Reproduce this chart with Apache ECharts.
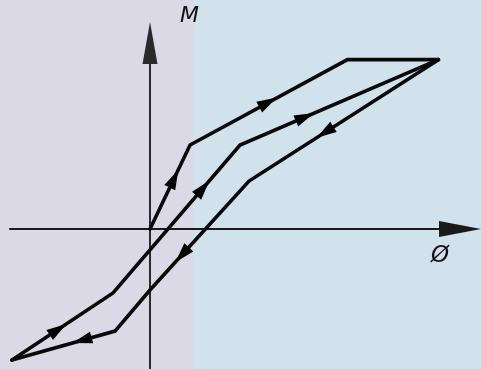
<!DOCTYPE html>
<html>
<head>
<meta charset="utf-8">
<script src="https://cdn.jsdelivr.net/npm/echarts@6/dist/echarts.min.js"></script>
<style>
html,body{margin:0;padding:0;}
#c{width:481px;height:369px;}
</style>
</head>
<body>
<div id="c"></div>
<script>
// Branches of the M–Ø loop (arbitrary units)
const virginX = [0, 2.86, 14.1, 20.6];
const virginY = [0, 6.0, 12.1, 12.1];
const descX = [20.6, 7.07, 0, -2.5, -9.86];
const descY = [12.1, 3.43, -4.36, -7.29, -9.36];
const ascX = [-9.86, -2.64, 6.43, 20.6];
const ascY = [-9.36, -4.57, 6.0, 12.1];
// Direction arrows placed on the branches
const virginArrowX = [1.72, 8.43];
const virginArrowY = [3.6, 9.05];
const ascArrowX = [-6.57, 3.79, 11.07];
const ascArrowY = [-7.18, 2.92, 8.0];
const descArrowX = [12.5, 2.29, -4.86];
const descArrowY = [6.91, -1.84, -7.95];
const axisNames = ['Ø', 'M'];

const zip = (xs, ys) => xs.map((x, i) => [x, ys[i]]);
const chart = echarts.init(document.getElementById('c'));

const lineStyle = {color: '#0a0a0a', width: 3.6, join: 'miter', cap: 'round'};
function branch(name, xs, ys) {
  return {type: 'line', name, data: zip(xs, ys), symbol: 'none', lineStyle, z: 3, animation: false, clip: false};
}
function arrows(name, xs, ys, rot) {
  return {type: 'scatter', name, data: xs.map((x, i) => ({value: [x, ys[i]], symbolRotate: rot ? rot[i] : 0})),
    symbol: 'triangle', symbolSize: [12, 20], itemStyle: {color: '#000', opacity: 1}, z: 4, animation: false};
}

function buildOption(rots) {
  return {
    animation: false,
    backgroundColor: 'transparent',
    graphic: [
      {type: 'rect', left: 0, top: 0, shape: {width: 193, height: 369}, style: {fill: '#dcd9e6'}, z: -10},
      {type: 'rect', left: 193, top: 0, shape: {width: 288, height: 369}, style: {fill: '#d1e2ed'}, z: -10},
      {type: 'text', left: 180, top: 5, style: {text: axisNames[1], font: 'italic 22px "DejaVu Sans"', fill: '#111'}, z: 10},
      {type: 'text', left: 431, top: 245, style: {text: axisNames[0], font: 'italic 23px "DejaVu Sans"', fill: '#111'}, z: 10}
    ],
    grid: {left: 10, right: 21, top: 43, bottom: 0},
    xAxis: {type: 'value', min: -10, max: 22.14,
      axisLine: {show: true, onZero: true, symbol: ['none', 'triangle'], symbolSize: [16, 42], lineStyle: {color: '#1a1a1a', width: 2}},
      axisTick: {show: false}, axisLabel: {show: false}, splitLine: {show: false}},
    yAxis: {type: 'value', min: -10, max: 13.29,
      axisLine: {show: true, onZero: true, symbol: ['none', 'triangle'], symbolSize: [15, 42], lineStyle: {color: '#2a2a2a', width: 2}},
      axisTick: {show: false}, axisLabel: {show: false}, splitLine: {show: false}},
    series: [
      branch('virgin', virginX, virginY),
      branch('desc', descX, descY),
      branch('asc', ascX, ascY),
      arrows('va', virginArrowX, virginArrowY, rots && rots.va),
      arrows('aa', ascArrowX, ascArrowY, rots && rots.aa),
      arrows('da', descArrowX, descArrowY, rots && rots.da)
    ]
  };
}

chart.setOption(buildOption(null));

function rotationsFor(ax, ay, xs, ys) {
  const segs = [];
  for (let i = 0; i < xs.length - 1; i++) {
    segs.push([chart.convertToPixel({gridIndex: 0}, [xs[i], ys[i]]), chart.convertToPixel({gridIndex: 0}, [xs[i + 1], ys[i + 1]])]);
  }
  return ax.map((x, k) => {
    const p = chart.convertToPixel({gridIndex: 0}, [x, ay[k]]);
    let best = null, bd = Infinity;
    segs.forEach(([a, b]) => {
      const dx = b[0] - a[0], dy = b[1] - a[1];
      let t = ((p[0] - a[0]) * dx + (p[1] - a[1]) * dy) / (dx * dx + dy * dy);
      t = Math.max(0, Math.min(1, t));
      const qx = a[0] + t * dx, qy = a[1] + t * dy;
      const d = Math.hypot(p[0] - qx, p[1] - qy);
      if (d < bd) { bd = d; best = [dx, dy]; }
    });
    const ang = Math.atan2(-best[1], best[0]) * 180 / Math.PI;
    return ang - 90;
  });
}

const rots = {
  va: rotationsFor(virginArrowX, virginArrowY, virginX, virginY),
  aa: rotationsFor(ascArrowX, ascArrowY, ascX, ascY),
  da: rotationsFor(descArrowX, descArrowY, descX, descY)
};
chart.setOption(buildOption(rots));
</script>
</body>
</html>
